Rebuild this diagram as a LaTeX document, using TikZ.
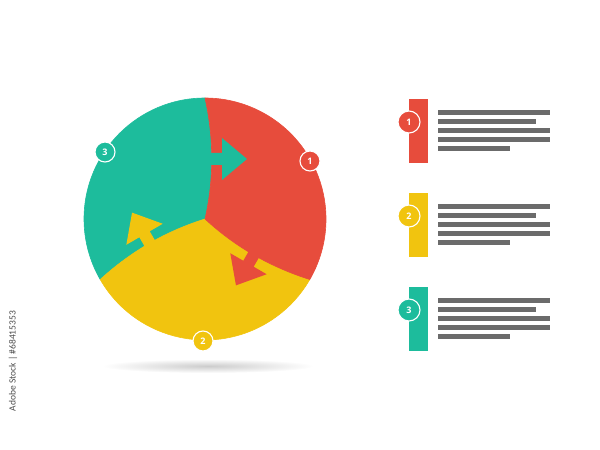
\documentclass[tikz,border=0pt]{standalone}
\usepackage{fontspec}
\setmainfont{Open Sans}
\newfontfamily\stockfont{Carlito}
\definecolor{pieRed}{HTML}{E74C3C}
\definecolor{pieTeal}{HTML}{1DBC9C}
\definecolor{pieYellow}{HTML}{F1C40F}
\definecolor{barGray}{HTML}{6B6B6B}

\begin{document}
\begin{tikzpicture}[x=1pt, y=1pt,
    markStyle/.style={circle, draw=white, line width=1.1pt, minimum size=20pt, inner sep=0pt, text=white, font=\fontsize{9}{9}\selectfont\bfseries},
    pieceStyle/.style={fill=#1, draw=#1, line width=0.6pt, line join=round},
    lineStyle/.style={barGray, line width=5pt}]
    \useasboundingbox (0,0) rectangle (600,450);

    % shadow under the circle
    \shade[inner color=black!20, outer color=white] (208,84) ellipse (106 and 7);

    % three pieces of the circle
    \foreach \ang/\col in {0/pieTeal, 120/pieYellow, 240/pieRed} {
        \begin{scope}[shift={(205,231)}, rotate=\ang]
            \path[pieceStyle=\col] (0,0) .. controls (9,40) and (9,80) .. (90:121)
                arc[start angle=90, end angle=210, radius=121]
                .. controls (-73.8,-32.2) and (-39.1,-12.2) .. cycle;
        \end{scope}
    }
    \foreach \ang/\col in {0/pieTeal, 120/pieYellow, 240/pieRed} {
        \begin{scope}[shift={(205,231)}, rotate=\ang]
            \fill[\col] (-5,54) -- (17,54) -- (17,39) -- (42,60) -- (17,81) -- (17,66) -- (-5,66) -- cycle;
        \end{scope}
    }

    \node[markStyle, fill=pieRed](pieOne) at (310,289) {1};
    \node[markStyle, fill=pieYellow](pieTwo) at (203,109) {2};
    \node[markStyle, fill=pieTeal](pieThree) at (105,298) {3};

    % legend on the right
    \foreach \k/\col/\yTop in {1/pieRed/351, 2/pieYellow/257, 3/pieTeal/163} {
        \fill[\col] (409,\yTop) rectangle (428,\yTop-64);
        \node[markStyle, fill=\col, minimum size=22pt](item\k) at (409,\yTop-23) {\k};
        \draw[lineStyle] (438,\yTop-14) -- (550,\yTop-14);
        \draw[lineStyle] (438,\yTop-23) -- (536,\yTop-23);
        \draw[lineStyle] (438,\yTop-32) -- (550,\yTop-32);
        \draw[lineStyle] (438,\yTop-41) -- (550,\yTop-41);
        \draw[lineStyle] (438,\yTop-50) -- (510,\yTop-50);
    }

    \node[rotate=90, text=black!70, font=\stockfont\fontsize{9.5}{9.5}\selectfont](stockId) at (13,89) {Adobe Stock | \#68415353};
\end{tikzpicture}
\end{document}
